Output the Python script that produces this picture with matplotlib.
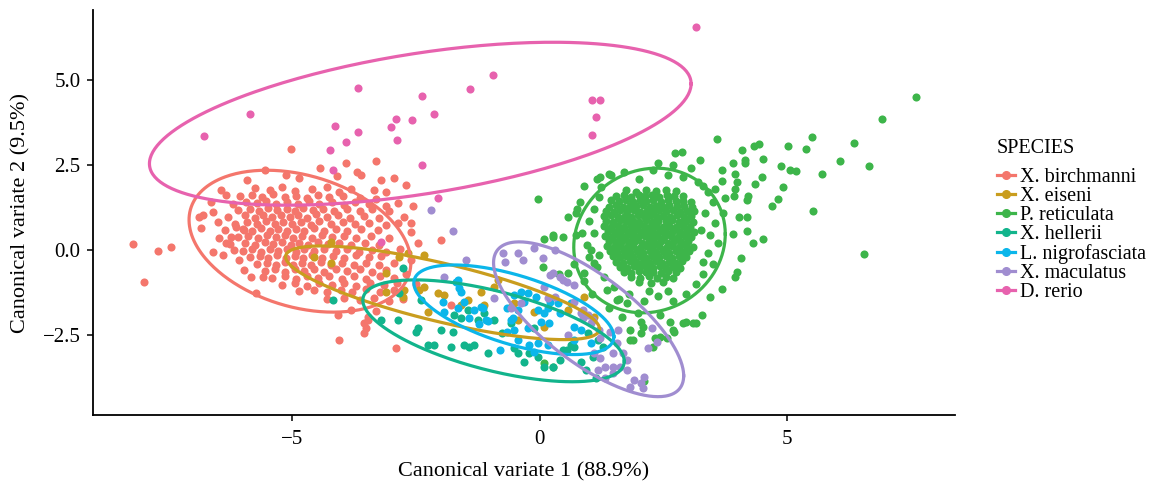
import numpy as np
import matplotlib
matplotlib.use("Agg")
import matplotlib.pyplot as plt
from matplotlib.lines import Line2D

plt.rcParams['font.family'] = ['Liberation Serif', 'DejaVu Serif']

species = ["X. birchmanni", "X. eiseni", "P. reticulata", "X. hellerii",
           "L. nigrofasciata", "X. maculatus", "D. rerio"]
colors = ["#F4766C", "#C99D1E", "#3DB54A", "#12B48C", "#0BB6EA", "#A08DD0", "#E762AE"]

# canonical variate scores (CV1, CV2)
birchmanni = [
    (-8.21, 0.18), (-7.70, -0.03), (-7.44, 0.09), (-8.00, -0.94),
    (-6.79, 1.03), (-6.59, 1.12), (-6.43, 1.76), (-6.33, 1.62), (-6.83, 0.65), (-6.49, 0.82),
    (-6.47, 0.35), (-6.59, -0.06), (-6.39, -0.15), (-6.17, 0.0), (-6.33, 0.21), (-6.07, -0.29),
    (-5.97, -0.59), (-5.83, -0.79), (-5.58, -0.79), (-5.73, -1.26), (-6.23, 0.38), (-5.97, 0.59),
    (-6.13, 0.68), (-6.63, 1.41), (-6.87, 0.97),
    (-5.02, 2.98), (-3.92, 2.55), (-3.31, 2.62), (-3.69, 2.29), (-3.60, 2.20), (-4.44, 2.41),
    (-5.55, 2.35), (-5.12, 2.21), (-2.95, 2.12), (-3.20, 2.05), (-4.10, 2.18), (-4.85, 2.12),
    (-5.90, 2.05), (-3.35, 1.76), (-3.10, 1.71), (-2.70, 1.92),
    (-2.74, 0.97), (-2.60, 0.79), (-2.60, 0.53), (-3.27, 0.59), (-2.55, 1.30), (-2.45, 0.20),
    (-2.60, -0.30), (-2.70, -0.70), (-2.50, -1.00), (-2.00, 0.29), (-1.79, -1.62),
    (-4.07, -1.91), (-3.81, -1.76), (-3.47, -1.97), (-3.55, -2.15), (-3.47, -2.06), (-3.55, -2.44),
    (-4.05, -2.65), (-2.90, -2.88), (-3.50, -2.30), (-3.30, -1.80),
    (-5.75, 1.82), (-5.45, 1.78), (-5.20, 1.85), (-4.95, 1.75), (-4.60, 1.80), (-4.30, 1.86),
    (-4.05, 1.72), (-3.80, 1.80),
    (-6.05, 1.58), (-5.80, 1.62), (-5.60, 1.55), (-5.38, 1.64), (-5.15, 1.57), (-4.92, 1.60),
    (-4.70, 1.52), (-4.48, 1.63), (-4.25, 1.55), (-3.98, 1.60), (-3.62, 1.54), (-3.30, 1.50),
    (-6.20, 1.36), (-5.92, 1.42), (-5.70, 1.38), (-5.52, 1.45), (-5.33, 1.35), (-5.10, 1.42),
    (-4.88, 1.37), (-4.66, 1.44), (-4.45, 1.36), (-4.20, 1.40), (-3.95, 1.33), (-3.72, 1.42),
    (-3.45, 1.36), (-3.10, 1.30), (-2.85, 1.38),
    (-6.10, 1.18), (-5.85, 1.22), (-5.66, 1.15), (-5.48, 1.24), (-5.30, 1.17), (-5.10, 1.20),
    (-4.95, 1.14), (-4.78, 1.25), (-4.58, 1.18), (-4.38, 1.22), (-4.15, 1.15), (-3.90, 1.20),
    (-3.62, 1.14), (-3.38, 1.22), (-3.05, 1.16),
    (-6.30, 0.98), (-5.95, 1.02), (-5.75, 0.95), (-5.58, 1.04), (-5.40, 0.97), (-5.22, 1.03),
    (-5.05, 0.96), (-4.88, 1.02), (-4.70, 0.95), (-4.52, 1.05), (-4.30, 0.98), (-4.08, 1.02),
    (-3.82, 0.95), (-3.55, 1.00), (-3.25, 0.94),
    (-6.15, 0.78), (-5.90, 0.82), (-5.70, 0.76), (-5.52, 0.84), (-5.35, 0.77), (-5.18, 0.83),
    (-5.00, 0.76), (-4.82, 0.82), (-4.62, 0.75), (-4.45, 0.84), (-4.22, 0.77), (-3.98, 0.82),
    (-3.72, 0.76), (-3.45, 0.80), (-3.10, 0.74), (-2.85, 0.80),
    (-6.35, 0.58), (-6.00, 0.62), (-5.80, 0.55), (-5.62, 0.64), (-5.45, 0.57), (-5.28, 0.63),
    (-5.10, 0.55), (-4.92, 0.62), (-4.75, 0.56), (-4.55, 0.64), (-4.35, 0.57), (-4.12, 0.61),
    (-3.88, 0.55), (-3.60, 0.62),
    (-6.10, 0.38), (-5.88, 0.42), (-5.68, 0.35), (-5.50, 0.44), (-5.32, 0.37), (-5.15, 0.43),
    (-4.98, 0.35), (-4.80, 0.42), (-4.60, 0.36), (-4.40, 0.44), (-4.20, 0.37), (-3.95, 0.42),
    (-3.70, 0.35), (-3.40, 0.40), (-3.05, 0.36),
    (-6.25, 0.18), (-5.95, 0.22), (-5.75, 0.15), (-5.55, 0.24), (-5.38, 0.17), (-5.20, 0.23),
    (-5.02, 0.16), (-4.85, 0.22), (-4.68, 0.15), (-4.48, 0.24), (-4.28, 0.17), (-4.05, 0.22),
    (-3.80, 0.15), (-3.52, 0.20), (-3.25, 0.14),
    (-6.00, -0.02), (-5.80, 0.03), (-5.62, -0.05), (-5.45, 0.04), (-5.28, -0.03), (-5.10, 0.02),
    (-4.92, -0.05), (-4.75, 0.03), (-4.55, -0.04), (-4.35, 0.04), (-4.12, -0.03), (-3.90, 0.02),
    (-3.65, -0.05), (-3.38, 0.00), (-3.10, -0.06), (-2.82, 0.02),
    (-5.85, -0.22), (-5.65, -0.17), (-5.48, -0.25), (-5.30, -0.16), (-5.12, -0.23), (-4.95, -0.17),
    (-4.78, -0.25), (-4.60, -0.16), (-4.40, -0.23), (-4.18, -0.17), (-3.95, -0.24), (-3.70, -0.16),
    (-3.45, -0.22), (-3.20, -0.18),
    (-5.70, -0.42), (-5.50, -0.37), (-5.32, -0.45), (-5.15, -0.36), (-4.98, -0.43), (-4.80, -0.37),
    (-4.62, -0.45), (-4.42, -0.36), (-4.22, -0.43), (-4.00, -0.37), (-3.75, -0.44), (-3.50, -0.38),
    (-3.25, -0.43), (-2.95, -0.37),
    (-5.55, -0.62), (-5.35, -0.57), (-5.15, -0.65), (-4.95, -0.56), (-4.75, -0.63), (-4.55, -0.57),
    (-4.35, -0.65), (-4.12, -0.56), (-3.88, -0.63), (-3.62, -0.57), (-3.38, -0.64), (-3.10, -0.58),
    (-5.40, -0.82), (-5.15, -0.77), (-4.92, -0.85), (-4.70, -0.76), (-4.48, -0.83), (-4.25, -0.77),
    (-4.00, -0.84), (-3.75, -0.78), (-3.50, -0.85), (-3.22, -0.77), (-2.95, -0.82),
    (-5.20, -1.02), (-4.95, -0.97), (-4.70, -1.05), (-4.45, -0.96), (-4.20, -1.03), (-3.95, -0.97),
    (-3.70, -1.05), (-3.42, -0.98), (-3.15, -1.04), (-2.88, -0.96),
    (-4.85, -1.22), (-4.55, -1.17), (-4.30, -1.25), (-4.02, -1.18), (-3.78, -1.24), (-3.50, -1.16),
    (-3.22, -1.23), (-2.95, -1.18),
    (-4.30, -1.45), (-3.95, -1.40), (-3.62, -1.48), (-3.35, -1.42), (-3.05, -1.50), (-2.75, -1.44),
]

eiseni = [
    (-4.56, -0.21), (-4.21, -0.38), (-4.21, 0.24), (-3.10, -0.68), (-2.84, -0.21), (-2.66, -0.09),
    (-2.34, -0.15), (-2.76, -1.38), (-2.74, -1.18), (-3.10, -1.24), (-2.44, -1.18), (-2.34, -1.09),
    (-2.26, -1.82), (-2.06, -1.26), (-1.94, -1.32), (-1.59, -1.62), (-1.45, -1.47), (-1.19, -1.24),
    (-1.13, -1.62), (-0.93, -1.09), (-0.85, -0.88), (-0.58, -1.68), (-0.52, -1.56), (-0.44, -2.06),
    (-0.12, -1.82), (0.08, -2.26), (0.58, -1.76), (0.89, -1.38), (1.09, -1.97),
]

reticulata = [
    # outer tail
    (7.61, 4.50), (6.92, 3.85), (6.35, 3.15), (6.65, 2.47), (6.07, 2.62), (5.50, 3.32),
    (5.38, 2.97), (5.71, 2.24), (5.53, 1.15), (6.55, -0.12), (5.02, 3.06), (4.88, 2.47),
    (5.06, 2.35), (5.18, 2.32), (4.92, 1.85), (4.82, 1.50), (4.70, 1.29), (4.50, 2.15),
    (4.35, 1.94), (4.52, 2.68), (4.44, 3.12), (4.33, 3.06), (4.15, 2.65), (4.15, 2.56),
    (4.09, 2.94), (3.91, 2.56), (3.95, 2.24), (3.69, 2.35), (3.69, 2.03), (3.59, 3.26),
    (3.99, 2.00), (3.95, 1.79), (3.55, 1.79), (3.75, 1.53), (3.93, 1.59), (4.21, 1.59),
    (4.19, 1.47), (4.03, 0.97), (4.19, 0.97), (4.19, 0.56), (3.91, 0.47), (4.31, 0.21),
    (4.52, 0.32), (4.07, -0.24), (3.99, -0.65), (3.95, -0.79), (3.69, -1.15), (3.45, -1.38),
    (3.29, -1.91), (2.74, 2.85), (2.88, 2.88), (3.23, 2.65), (2.40, 2.56), (2.70, 2.50),
    (3.06, 2.41), (1.21, 2.15), (1.45, 2.21), (-0.04, 1.50), (0.81, 1.41), (0.58, 0.97),
    (0.73, 1.09), (0.08, 0.32), (0.28, 0.44), (0.48, 0.38), (0.06, -0.50), (0.40, -0.71),
    (0.58, -0.68), (3.15, -2.15), (2.96, -2.12), (2.72, -2.41), (2.64, -2.12), (2.44, -1.91),
    (2.04, -2.12), (1.83, -2.35), (1.88, -2.65), (2.04, -2.44), (2.30, -2.85), (2.44, -2.56),
    (0.28, 0.38), (0.73, 0.44), (1.03, 0.0), (1.09, -0.38), (0.89, -0.68), (1.37, -1.18),
    (1.57, -1.47), (1.77, -1.56), (1.67, -1.97), (1.98, -1.85), (2.08, -2.26), (1.83, -2.65),
    (2.34, -2.59), (2.58, -2.59), (2.70, -2.35), (2.90, -2.15), (3.10, -2.15), (2.10, -3.85),
    (0.08, -3.32), (0.28, -3.44),
    # ring inside the ellipse
    (0.90, 1.90), (1.15, 2.10), (1.40, 2.25), (1.70, 2.30), (2.00, 2.10), (2.30, 2.35),
    (2.60, 2.20), (2.90, 2.15), (3.20, 2.00), (3.40, 1.70), (3.50, 1.40), (3.35, 1.10),
    (3.55, 0.80), (3.45, 0.45), (3.60, 0.20), (3.40, -0.10), (3.50, -0.40), (3.30, -0.70),
    (3.15, -1.00), (2.95, -1.30), (2.70, -1.50), (2.40, -1.35), (2.10, -1.50), (1.80, -1.30),
    (1.50, -1.10), (1.30, -0.80), (1.15, -0.50), (1.00, -0.20), (0.95, 0.15), (0.85, 0.50),
    (1.00, 0.85), (1.10, 1.20), (1.20, 1.55), (0.75, 1.20), (0.70, -0.40), (1.10, 0.50),
    (1.20, -0.15), (1.25, 1.85), (3.30, 1.90), (3.70, 1.10), (3.25, 0.60), (3.30, -0.35),
    (2.60, -1.20), (2.20, -1.20), (1.60, -1.45), (1.40, -1.70), (1.05, -1.30), (0.90, -0.90),
    # dense core
    (1.75, 1.76), (1.95, 1.72), (2.15, 1.78), (2.35, 1.73), (2.55, 1.77), (2.75, 1.74),
    (1.55, 1.58), (1.70, 1.62), (1.85, 1.57), (2.00, 1.63), (2.12, 1.59), (2.28, 1.61),
    (2.42, 1.56), (2.58, 1.62), (2.72, 1.58), (2.90, 1.60),
    (1.45, 1.47), (1.60, 1.43), (1.75, 1.46), (1.88, 1.42), (2.02, 1.48), (2.15, 1.44),
    (2.30, 1.46), (2.45, 1.42), (2.60, 1.47), (2.75, 1.43), (2.90, 1.45), (3.05, 1.41),
    (1.40, 1.28), (1.55, 1.32), (1.68, 1.27), (1.82, 1.31), (1.95, 1.29), (2.08, 1.33),
    (2.22, 1.28), (2.35, 1.31), (2.50, 1.27), (2.62, 1.32), (2.78, 1.29), (2.92, 1.31), (3.08, 1.28),
    (1.35, 1.16), (1.50, 1.13), (1.62, 1.17), (1.76, 1.14), (1.90, 1.18), (2.02, 1.13),
    (2.16, 1.16), (2.30, 1.12), (2.42, 1.17), (2.56, 1.14), (2.70, 1.18), (2.84, 1.13),
    (2.98, 1.16), (3.12, 1.14),
    (1.30, 0.99), (1.45, 1.02), (1.58, 0.98), (1.72, 1.01), (1.85, 0.97), (1.98, 1.03),
    (2.10, 0.99), (2.24, 1.02), (2.38, 0.97), (2.50, 1.01), (2.64, 0.98), (2.78, 1.02),
    (2.92, 0.97), (3.05, 1.00),
    (1.35, 0.86), (1.48, 0.83), (1.62, 0.87), (1.75, 0.84), (1.88, 0.86), (2.00, 0.82),
    (2.14, 0.87), (2.28, 0.83), (2.40, 0.86), (2.55, 0.84), (2.68, 0.87), (2.82, 0.83),
    (2.96, 0.85), (3.10, 0.82),
    (1.30, 0.70), (1.45, 0.67), (1.58, 0.72), (1.70, 0.69), (1.84, 0.71), (1.96, 0.67),
    (2.10, 0.72), (2.22, 0.68), (2.36, 0.71), (2.50, 0.67), (2.62, 0.72), (2.76, 0.69),
    (2.90, 0.71), (3.04, 0.68),
    (1.38, 0.56), (1.52, 0.53), (1.65, 0.57), (1.78, 0.54), (1.90, 0.56), (2.04, 0.52),
    (2.16, 0.57), (2.30, 0.53), (2.44, 0.56), (2.56, 0.54), (2.70, 0.57), (2.84, 0.53),
    (2.98, 0.55), (3.12, 0.52),
    (1.32, 0.41), (1.46, 0.38), (1.60, 0.42), (1.72, 0.39), (1.86, 0.41), (1.98, 0.37),
    (2.12, 0.42), (2.26, 0.38), (2.38, 0.41), (2.52, 0.37), (2.66, 0.42), (2.80, 0.39),
    (2.94, 0.41), (3.06, 0.38),
    (1.40, 0.26), (1.54, 0.23), (1.66, 0.27), (1.80, 0.24), (1.92, 0.26), (2.06, 0.22),
    (2.20, 0.27), (2.32, 0.23), (2.46, 0.26), (2.60, 0.22), (2.72, 0.27), (2.86, 0.24), (3.00, 0.26),
    (1.36, 0.11), (1.50, 0.08), (1.62, 0.12), (1.76, 0.09), (1.88, 0.11), (2.02, 0.07),
    (2.14, 0.12), (2.28, 0.08), (2.42, 0.11), (2.55, 0.07), (2.68, 0.12), (2.82, 0.09),
    (2.96, 0.11), (3.10, 0.08),
    (1.42, -0.04), (1.56, -0.07), (1.70, -0.03), (1.82, -0.06), (1.96, -0.04), (2.08, -0.08),
    (2.22, -0.03), (2.36, -0.07), (2.50, -0.04), (2.62, -0.08), (2.76, -0.03), (2.90, -0.06),
    (3.02, -0.04),
    (1.48, -0.19), (1.62, -0.22), (1.75, -0.18), (1.88, -0.21), (2.02, -0.19), (2.15, -0.23),
    (2.28, -0.18), (2.42, -0.22), (2.55, -0.19), (2.68, -0.23), (2.82, -0.18), (2.96, -0.21),
    (1.55, -0.34), (1.68, -0.37), (1.82, -0.33), (1.95, -0.36), (2.08, -0.34), (2.22, -0.38),
    (2.35, -0.33), (2.48, -0.37), (2.62, -0.34), (2.75, -0.38), (2.88, -0.33),
    (1.62, -0.49), (1.76, -0.52), (1.90, -0.48), (2.02, -0.51), (2.16, -0.49), (2.30, -0.53),
    (2.44, -0.48), (2.56, -0.52), (2.70, -0.49), (2.84, -0.52),
    (1.70, -0.64), (1.85, -0.67), (2.00, -0.63), (2.15, -0.66), (2.30, -0.64), (2.45, -0.68),
    (2.60, -0.63), (2.75, -0.66),
    (1.85, -0.79), (2.02, -0.82), (2.20, -0.78), (2.38, -0.81), (2.55, -0.79), (2.70, -0.82),
    (2.00, -0.95), (2.25, -0.97), (2.50, -0.94),
]

hellerii = [
    (-4.17, -1.47), (-3.21, -2.06), (-2.86, -2.06), (-2.76, -0.53), (-2.46, -2.29), (-2.50, -2.41),
    (-2.26, -2.79), (-2.14, -2.79), (-1.79, -2.85), (-1.75, -2.41), (-1.59, -2.00), (-1.45, -1.76),
    (-1.53, -2.79), (-1.43, -2.85), (-1.33, -2.79), (-1.05, -3.03), (-0.75, -2.44), (-0.58, -2.15),
    (-0.52, -2.88), (-0.44, -3.03), (-0.32, -3.29), (-0.22, -3.03), (-0.12, -2.29), (-0.04, -3.15),
    (0.08, -3.44), (0.28, -3.44), (0.42, -3.24), (0.56, -2.94), (0.69, -2.85), (0.97, -2.44),
    (1.17, -2.65), (1.13, -3.76), (-1.13, -1.85), (-0.93, -2.06), (-1.25, -2.06), (-1.73, -1.91),
    (-2.84, -1.26), (0.63, -2.79), (0.48, -2.94), (0.83, -3.29), (0.93, -3.53), (1.07, -3.15),
    (1.29, -2.85), (-2.00, -2.35), (-2.40, -1.47),
]

nigrofasciata = [
    (-1.65, -0.88), (-1.59, -1.24), (-1.96, -1.53), (-1.94, -1.82), (-1.53, -1.53), (-1.33, -1.76),
    (-1.43, -2.00), (-1.23, -2.18), (-1.05, -2.09), (-1.19, -1.68), (-1.65, -1.71), (-0.65, -1.71),
    (-0.54, -2.00), (-0.44, -1.76), (-0.32, -1.53), (-0.24, -1.26), (-0.08, -1.38), (-0.04, -1.76),
    (0.02, -2.12), (0.16, -1.71), (-0.24, -2.29), (-0.65, -2.41), (-0.44, -2.65), (-0.22, -2.79),
    (-0.04, -2.74), (0.16, -2.79), (-0.12, -3.00), (-1.69, -0.94), (-1.63, -1.12), (-1.15, -1.71),
    (-1.09, -2.06), (-0.52, -1.32), (-0.38, -1.24), (0.22, -1.53), (0.38, -1.56), (0.63, -1.56),
    (0.08, -1.85), (0.42, -1.85), (0.18, -2.15), (0.83, -2.35), (0.69, -2.65), (1.03, -2.74),
    (0.69, -2.26), (-0.58, -2.06), (-0.52, -2.35), (-0.79, -2.94),
]

maculatus = [
    (-2.20, 1.18), (-1.75, 0.56), (-1.49, -0.29), (-0.73, -0.09), (-0.44, -0.09), (-0.12, 0.06),
    (-0.69, -0.35), (-0.34, -0.29), (-1.94, -0.79), (0.22, -0.74), (0.42, -0.79), (0.56, -0.94),
    (0.69, -1.03), (0.32, -1.38), (0.69, -1.53), (0.87, -1.76), (0.97, -1.91), (1.07, -2.06),
    (0.87, -2.00), (1.19, -2.35), (1.23, -2.59), (1.43, -2.41), (1.57, -2.74), (1.69, -3.03),
    (1.49, -3.03), (1.33, -3.44), (1.49, -3.44), (1.77, -3.53), (1.90, -3.82), (2.04, -3.91),
    (2.10, -3.74), (1.83, -4.03), (2.28, -2.29), (2.38, -2.71), (2.18, -2.88), (-0.93, -1.41),
    (-0.58, -1.71), (-0.38, -1.56), (0.16, -1.41), (0.58, -2.50), (1.09, -3.03), (1.23, -3.18),
    (1.17, -3.53), (1.49, -3.62), (1.77, -3.24), (0.48, -0.88), (0.28, -0.68), (0.08, -1.09),
    (0.83, -1.85), (1.03, -2.15), (1.59, -2.35), (1.63, -3.44), (2.08, -4.06), (0.06, -0.24),
    (0.32, 0.00), (1.33, -3.76),
]

rerio = [
    (-6.77, 3.35), (-5.85, 4.00), (-3.67, 4.76), (-4.13, 3.65), (-3.67, 3.47), (-3.91, 3.18),
    (-4.23, 2.94), (-3.00, 3.62), (-2.90, 3.85), (-2.58, 3.82), (-2.38, 4.53), (-2.14, 4.00),
    (-2.88, 3.24), (-1.41, 4.74), (-0.95, 5.15), (-2.38, 2.50), (1.05, 4.41), (1.23, 4.41),
    (1.13, 3.91), (1.05, 3.38), (3.15, 6.56), (-4.17, 2.35), (-3.21, 0.24), (-2.06, 1.53),
]

# 95% ellipses: centre, half-extent in x and y, correlation
ell_cx = [-4.84, -1.96, 2.22, -0.93, -0.52, 0.99, -2.41]
ell_cy = [0.26, -1.26, 0.28, -2.38, -1.76, -2.04, 3.72]
ell_rx = [2.24, 3.17, 1.53, 2.64, 2.02, 1.92, 5.47]
ell_ry = [2.09, 1.38, 2.13, 1.50, 1.32, 2.28, 2.40]
ell_rho = [-0.30, -0.77, 0.09, -0.60, -0.60, -0.73, 0.49]

groups = [birchmanni, eiseni, reticulata, hellerii, nigrofasciata, maculatus, rerio]

fig = plt.figure(figsize=(11.57, 4.87), dpi=100)
ax = fig.add_axes([93 / 1157, 1 - 415 / 487, (955 - 93) / 1157, (415 - 10) / 487])

for pts, col in zip(groups, colors):
    pts = np.array(pts)
    ax.scatter(pts[:, 0], pts[:, 1], s=34, color=col, linewidths=0, zorder=2)

t = np.linspace(0, 2 * np.pi, 300)
for i, col in enumerate(colors):
    ex = ell_cx[i] + ell_rx[i] * np.cos(t)
    ey = ell_cy[i] + ell_ry[i] * (ell_rho[i] * np.cos(t) + np.sqrt(1 - ell_rho[i] ** 2) * np.sin(t))
    ax.plot(ex, ey, color=col, linewidth=2.3, zorder=3)

ax.set_xlim(-9.02, 8.39)
ax.set_ylim(-4.86, 7.07)
ax.set_xticks([-5, 0, 5])
ax.set_yticks([-2.5, 0.0, 2.5, 5.0])
ax.set_yticklabels(['\u22122.5', '0.0', '2.5', '5.0'])
ax.set_xticklabels(['\u22125', '0', '5'])
for side in ['top', 'right']:
    ax.spines[side].set_visible(False)
for side in ['left', 'bottom']:
    ax.spines[side].set_linewidth(1.3)
ax.tick_params(length=4, width=1.1, labelsize=15, colors='black')
ax.tick_params(axis='x', pad=7)
ax.tick_params(axis='y', pad=5)
ax.set_xlabel('Canonical variate 1 (88.9%)', fontsize=16, labelpad=9)
ax.set_ylabel('Canonical variate 2 (9.5%)', fontsize=16, labelpad=9)

handles = [Line2D([], [], color=c, marker='o', markersize=5.5, linewidth=2.3) for c in colors]
leg = fig.legend(handles, species, loc='upper left', bbox_to_anchor=(989 / 1157, 1 - 131 / 487),
                 frameon=False, title='SPECIES', fontsize=14.5, title_fontsize=14.5,
                 handlelength=0.9, handletextpad=0.25, labelspacing=0.0, borderaxespad=0)
leg._legend_box.align = 'left'
leg._legend_box.sep = 7

fig.savefig('out.png', dpi=100)
